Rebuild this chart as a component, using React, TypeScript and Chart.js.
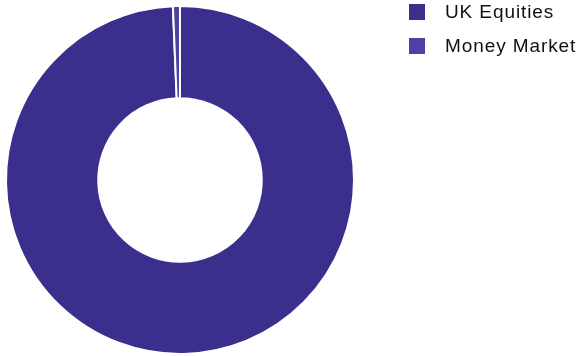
import React, { useEffect, useRef } from "react";
import { Chart, registerables } from "chart.js";

Chart.register(...registerables);

const categories = ["UK Equities", "Money Market"];
const values = [99.35, 0.65];
const colors = ["#3b2f8e", "#4e43a3"];

export default function App() {
  const ref = useRef<HTMLCanvasElement | null>(null);
  useEffect(() => {
    if (!ref.current) return;
    const chart = new Chart(ref.current, {
      type: "doughnut",
      data: {
        labels: categories,
        datasets: [
          {
            data: values,
            backgroundColor: colors,
            borderColor: "#ffffff",
            borderWidth: 2,
          },
        ],
      },
      options: {
        animation: false,
        responsive: false,
        cutout: "47%",
        layout: { padding: { left: 5, top: 5, right: 226, bottom: 1 } },
        plugins: {
          legend: { display: false },
          tooltip: { enabled: false },
        },
      },
    });
    return () => chart.destroy();
  }, []);
  return (
    <div style={{ position: "fixed", left: 0, top: 0, width: 581, height: 356, background: "#fff" }}>
      <canvas ref={ref} width={581} height={356} style={{ display: "block" }} />
      <div style={{ position: "absolute", left: 409, top: 4, fontFamily: "'Liberation Sans', Arial, sans-serif", fontSize: 19, letterSpacing: "0.9px", color: "#111" }}>
        {categories.map((c, i) => (
          <div key={c} style={{ display: "flex", alignItems: "center", height: 16, marginBottom: 18 }}>
            <span style={{ display: "inline-block", flex: "none", width: 16, height: 16, background: colors[i], marginRight: 20 }} />
            <span style={{ lineHeight: "16px", whiteSpace: "nowrap" }}>{c}</span>
          </div>
        ))}
      </div>
    </div>
  );
}
